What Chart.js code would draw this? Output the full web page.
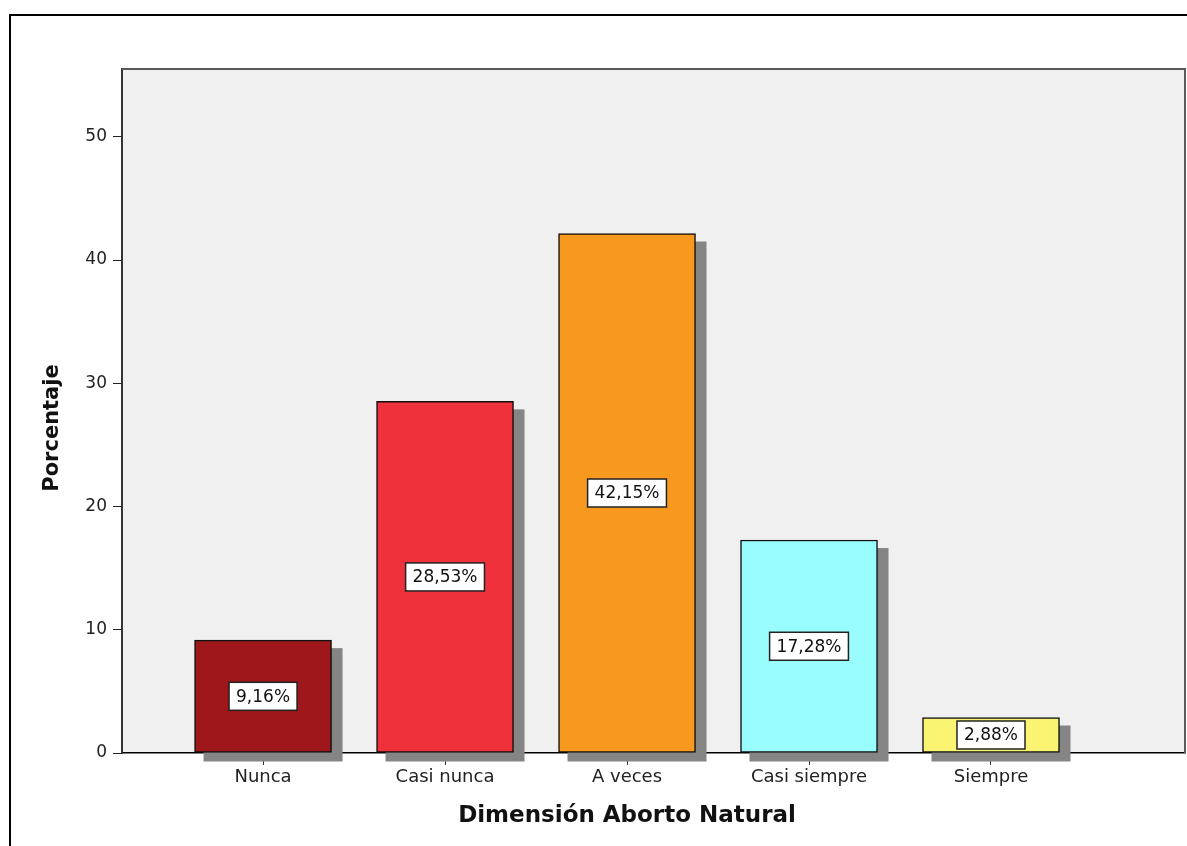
<!DOCTYPE html>
<html>
<head>
<meta charset="utf-8">
<script src="https://cdn.jsdelivr.net/npm/chart.js@4/dist/chart.umd.min.js"></script>
<style>
    html, body { margin: 0; padding: 0; background: #fff; overflow: hidden; }
    #frame { position: absolute; left: 9px; top: 14px; width: 1400px; height: 1000px; border: 2px solid #000; }
    #wrap { position: absolute; left: 0; top: 0; width: 1187px; height: 846px; }
</style>
</head>
<body>
<div id="frame"></div>
<div id="wrap"><canvas id="chart"></canvas></div>
<script>
    const categories = ['Nunca', 'Casi nunca', 'A veces', 'Casi siempre', 'Siempre'];
    const percentages = [9.16, 28.53, 42.15, 17.28, 2.88];
    const barColors = ['#9E171B', '#EF313B', '#F7991F', '#99FDFD', '#F9F573'];
    const yTicks = [0, 10, 20, 30, 40, 50];

    // plot background, shadows, value boxes, axis titles
    const decor = {
        id: 'decor',
        beforeDraw(chart) {
            const { ctx, chartArea: a } = chart;
            ctx.save();
            ctx.fillStyle = '#F0F0F0';
            ctx.fillRect(a.left, a.top, a.right - a.left, a.bottom - a.top);
            ctx.restore();
        },
        beforeDatasetsDraw(chart) {
            const ctx = chart.ctx;
            ctx.save();
            ctx.fillStyle = '#858585';
            chart.getDatasetMeta(0).data.forEach(bar => {
                const w = bar.width;
                ctx.fillRect(bar.x - w / 2 + 9, bar.y + 8, w + 2, bar.base - bar.y + 1);
            });
            ctx.restore();
        },
        afterDatasetsDraw(chart) {
            const ctx = chart.ctx;
            ctx.save();
            ctx.font = '17px "DejaVu Sans"';
            ctx.textAlign = 'center';
            ctx.textBaseline = 'middle';
            chart.getDatasetMeta(0).data.forEach((bar, i) => {
                const txt = percentages[i].toFixed(2).replace('.', ',') + '%';
                const cy = (bar.y + bar.base) / 2;
                const w = ctx.measureText(txt).width + 14;
                const h = 28;
                ctx.fillStyle = '#fff';
                ctx.fillRect(bar.x - w / 2, cy - h / 2, w, h);
                ctx.strokeStyle = '#222';
                ctx.lineWidth = 1.5;
                ctx.strokeRect(bar.x - w / 2, cy - h / 2, w, h);
                ctx.fillStyle = '#111';
                ctx.fillText(txt, bar.x, cy + 1);
            });
            ctx.restore();
        },
        afterDraw(chart) {
            const { ctx, chartArea: a } = chart;
            ctx.save();
            ctx.strokeStyle = '#5a5a5a';
            ctx.lineWidth = 2;
            ctx.beginPath();
            ctx.moveTo(a.left, a.top);
            ctx.lineTo(a.right, a.top);
            ctx.lineTo(a.right, a.bottom);
            ctx.stroke();

            ctx.fillStyle = '#111';
            ctx.textAlign = 'center';
            ctx.textBaseline = 'middle';
            ctx.font = 'bold 23px "DejaVu Sans"';
            ctx.fillText('Dimensión Aborto Natural', chart.scales.x.getPixelForValue(2), 816);

            ctx.translate(53, 428);
            ctx.rotate(-Math.PI / 2);
            ctx.font = 'bold 21px "DejaVu Sans"';
            ctx.fillText('Porcentaje', 0, 0);
            ctx.restore();
        }
    };

    new Chart(document.getElementById('chart'), {
        type: 'bar',
        data: {
            datasets: [{
                data: percentages.map((v, i) => ({ x: i, y: v })),
                backgroundColor: barColors,
                borderColor: '#111',
                borderWidth: 1.5,
                borderSkipped: false,
                barThickness: 137
            }]
        },
        options: {
            responsive: true,
            maintainAspectRatio: false,
            animation: false,
            events: [],
            layout: { padding: { top: 69, right: 2, left: 0, bottom: 0 } },
            plugins: {
                legend: { display: false },
                tooltip: { enabled: false }
            },
            scales: {
                x: {
                    type: 'linear',
                    offset: false,
                    min: -0.775,
                    max: 5.066,
                    afterBuildTicks: s => { s.ticks = categories.map((c, i) => ({ value: i })); },
                    afterFit: s => { s.height = 93; },
                    grid: { display: true, offset: false, drawOnChartArea: false, drawTicks: true, tickLength: 12, color: '#333' },
                    border: { display: true, color: '#000', width: 1.5 },
                    ticks: {
                        autoSkip: false,
                        maxRotation: 0,
                        padding: 2,
                        color: '#222',
                        font: { family: 'DejaVu Sans', size: 18 },
                        callback: v => categories[v]
                    }
                },
                y: {
                    min: 0,
                    max: 55.5,
                    afterBuildTicks: s => { s.ticks = yTicks.map(v => ({ value: v })); },
                    afterFit: s => { s.width = 122; },
                    grid: { display: true, drawOnChartArea: false, drawTicks: true, tickLength: 9, color: '#222' },
                    border: { display: true, color: '#333', width: 2 },
                    ticks: {
                        padding: 6,
                        color: '#222',
                        font: { family: 'DejaVu Sans', size: 17 }
                    }
                }
            }
        },
        plugins: [decor]
    });
</script>
</body>
</html>
